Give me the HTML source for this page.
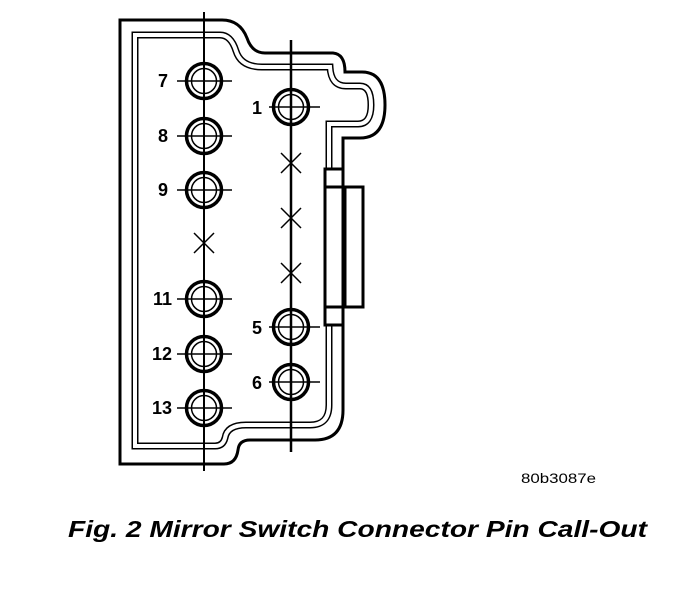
<!DOCTYPE html>
<html><head><meta charset="utf-8"><style>
html,body{margin:0;padding:0;background:#fff;}
svg{display:block;}
text{font-family:"Liberation Sans",sans-serif;}
</style></head><body>
<svg width="688" height="600" viewBox="0 0 688 600" xmlns="http://www.w3.org/2000/svg">
<path d="M120,20 H222 Q240,20 247,38 Q252,53 265,53 H333 Q345,54 345,72 H362 Q385,72 385,105 Q385,138 360,138 H343 V410 Q343,440 315,440 H250 Q239,440 238,450 Q236,464 224,464 H120 Z" fill="none" stroke="#000" stroke-width="3"/>
<path d="M135,35 H220 Q231,35 236,51 Q241,67 262,67 H330 Q331,86 346,86 H360 Q371,86 371,105 Q371,124 358,124 H329 V405 Q329,425 310,425 H246 Q227,425 225,438 Q223,446 215,446 H135 Z" fill="none" stroke="#000" stroke-width="7"/>
<path d="M135,35 H220 Q231,35 236,51 Q241,67 262,67 H330 Q331,86 346,86 H360 Q371,86 371,105 Q371,124 358,124 H329 V405 Q329,425 310,425 H246 Q227,425 225,438 Q223,446 215,446 H135 Z" fill="none" stroke="#fff" stroke-width="4"/>
<rect x="345" y="187" width="18" height="120" fill="#fff" stroke="#000" stroke-width="3"/>
<rect x="325" y="169" width="18" height="156" fill="#fff" stroke="#000" stroke-width="3"/>
<line x1="325" y1="187" x2="345" y2="187" stroke="#000" stroke-width="3"/>
<line x1="325" y1="307" x2="345" y2="307" stroke="#000" stroke-width="3"/>
<line x1="204" y1="12" x2="204" y2="471" stroke="#000" stroke-width="2"/>
<line x1="291" y1="40" x2="291" y2="452" stroke="#000" stroke-width="2.5"/>
<g stroke="#000" stroke-width="1.5">
<line x1="194" y1="233" x2="214" y2="253"/><line x1="214" y1="233" x2="194" y2="253"/>
<line x1="281" y1="153" x2="301" y2="173"/><line x1="301" y1="153" x2="281" y2="173"/>
<line x1="281" y1="208" x2="301" y2="228"/><line x1="301" y1="208" x2="281" y2="228"/>
<line x1="281" y1="263" x2="301" y2="283"/><line x1="301" y1="263" x2="281" y2="283"/>
</g>
<g fill="none" stroke="#000">
<g transform="translate(204,81)"><circle r="17.5" stroke-width="3.5"/><circle r="12.5" stroke-width="1.5"/><line x1="-27" x2="28" stroke-width="1.5"/></g>
<g transform="translate(204,136)"><circle r="17.5" stroke-width="3.5"/><circle r="12.5" stroke-width="1.5"/><line x1="-27" x2="28" stroke-width="1.5"/></g>
<g transform="translate(204,190)"><circle r="17.5" stroke-width="3.5"/><circle r="12.5" stroke-width="1.5"/><line x1="-27" x2="28" stroke-width="1.5"/></g>
<g transform="translate(204,299)"><circle r="17.5" stroke-width="3.5"/><circle r="12.5" stroke-width="1.5"/><line x1="-27" x2="28" stroke-width="1.5"/></g>
<g transform="translate(204,354)"><circle r="17.5" stroke-width="3.5"/><circle r="12.5" stroke-width="1.5"/><line x1="-27" x2="28" stroke-width="1.5"/></g>
<g transform="translate(204,408)"><circle r="17.5" stroke-width="3.5"/><circle r="12.5" stroke-width="1.5"/><line x1="-27" x2="28" stroke-width="1.5"/></g>
<g transform="translate(291,107)"><circle r="17.5" stroke-width="3.5"/><circle r="12.5" stroke-width="1.5"/><line x1="-22" x2="29" stroke-width="1.5"/></g>
<g transform="translate(291,327)"><circle r="17.5" stroke-width="3.5"/><circle r="12.5" stroke-width="1.5"/><line x1="-22" x2="29" stroke-width="1.5"/></g>
<g transform="translate(291,382)"><circle r="17.5" stroke-width="3.5"/><circle r="12.5" stroke-width="1.5"/><line x1="-22" x2="29" stroke-width="1.5"/></g>
</g>
<g font-size="18" font-weight="bold" text-anchor="end">
<text x="168" y="87">7</text>
<text x="168" y="142">8</text>
<text x="168" y="196">9</text>
<text x="172" y="305">11</text>
<text x="172" y="360">12</text>
<text x="172" y="414">13</text>
<text x="262" y="114">1</text>
<text x="262" y="334">5</text>
<text x="262" y="389">6</text>
</g>
<text x="521" y="483" font-size="14" textLength="75" lengthAdjust="spacingAndGlyphs">80b3087e</text>
<text x="68" y="537" font-size="23" font-weight="bold" font-style="italic" textLength="579" lengthAdjust="spacingAndGlyphs">Fig. 2 Mirror Switch Connector Pin Call-Out</text>
</svg>
</body></html>
